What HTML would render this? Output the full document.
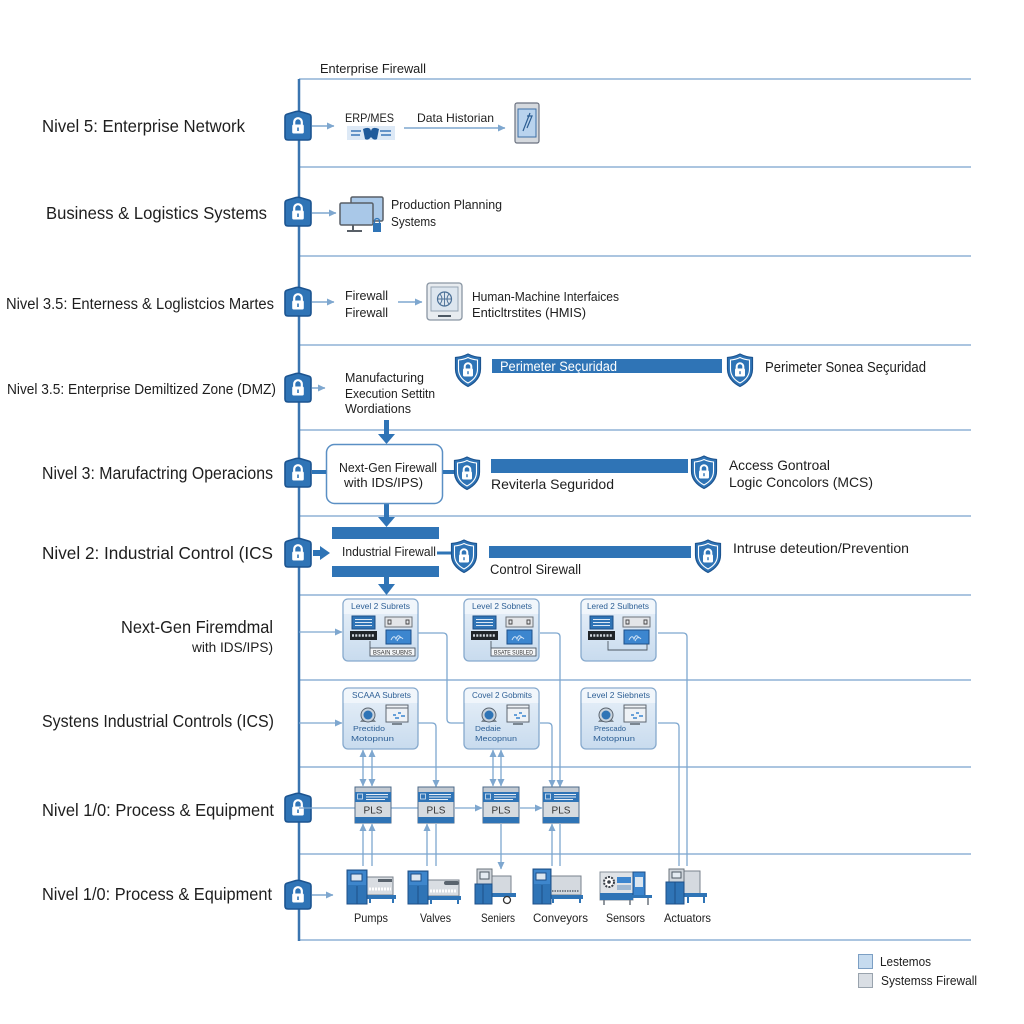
<!DOCTYPE html>
<html><head><meta charset="utf-8">
<style>
html,body{margin:0;padding:0;background:#fff;}
svg{display:block;}
text{font-family:"Liberation Sans",sans-serif;fill:#1e1e1e;}
.sm{fill:#2d5f95;}
</style></head><body>
<svg width="1024" height="1024" viewBox="0 0 1024 1024" xmlns="http://www.w3.org/2000/svg">
<defs>
 <marker id="ah" markerWidth="8" markerHeight="8" refX="7" refY="4" orient="auto-start-reverse" markerUnits="userSpaceOnUse"><path d="M0,0.5 L7.5,4 L0,7.5 Z" fill="#7ea7cf"/></marker>
 <linearGradient id="gb" x1="0" y1="0" x2="0" y2="1"><stop offset="0" stop-color="#e9f1f9"/><stop offset="1" stop-color="#c8dbee"/></linearGradient>
 <g id="lk">
  <path d="M-13,-9 Q-13,-11.5 -10.5,-12 L-2,-14.5 Q0,-15 2,-14.5 L10.5,-12 Q13,-11.5 13,-9 L13,11 Q13,14 10,14 L-10,14 Q-13,14 -13,11 Z" fill="#2f74b6" stroke="#1c5490" stroke-width="1.6"/>
  <path d="M-3.8,-1 V-4 A3.8,3.8 0 0 1 3.8,-4 V-1" fill="none" stroke="#fff" stroke-width="2.2"/>
  <rect x="-5.8" y="-1.5" width="11.6" height="9" rx="1.5" fill="#fff"/>
  <rect x="-0.8" y="1.5" width="1.6" height="3.5" fill="#2f74b6"/>
 </g>
 <g id="sh">
  <path d="M0,-16 Q6,-13 12.5,-12.5 L12.5,-1 Q12.5,10 0,16.5 Q-12.5,10 -12.5,-1 L-12.5,-12.5 Q-6,-13 0,-16 Z" fill="#2f74b6" stroke="#1c5490" stroke-width="1.2"/>
  <path d="M0,-12.5 Q4.5,-10.3 9.5,-10 L9.5,-1 Q9.5,8 0,13 Q-9.5,8 -9.5,-1 L-9.5,-10 Q-4.5,-10.3 0,-12.5 Z" fill="none" stroke="#fff" stroke-width="1.1"/>
  <path d="M-3.3,-1 V-3.5 A3.3,3.3 0 0 1 3.3,-3.5 V-1" fill="none" stroke="#fff" stroke-width="2"/>
  <rect x="-5" y="-1.5" width="10" height="8" rx="1.2" fill="#fff"/>
  <rect x="-0.7" y="1.2" width="1.4" height="3" fill="#2f74b6"/>
 </g>
 <g id="boxA">
  <rect x="0" y="0" width="75" height="62" rx="5" fill="url(#gb)" stroke="#86a9cd" stroke-width="1.3"/>
  <path d="M5,0.7 H70 Q74.3,0.7 74.3,5 V15 H0.7 V5 Q0.7,0.7 5,0.7Z" fill="#f2f7fc" opacity=".85"/>
  <rect x="9" y="17" width="23" height="13" fill="#2f74b6" stroke="#1c4f88"/>
  <path d="M12,20.5 H29 M12,23.5 H29 M12,26.5 H29" stroke="#dbe8f5" stroke-width="1"/>
  <rect x="7" y="32" width="27" height="9" fill="#1f2428"/>
  <path d="M9,36.5 H32" stroke="#cfd6dd" stroke-width="2.5" stroke-dasharray="2,1.3"/>
  <rect x="42" y="18" width="27" height="10" fill="#e3e5e8" stroke="#6d737a"/>
  <path d="M45,21 h3 v4 h-3z M63,21 h3 v4 h-3z" fill="none" stroke="#444" stroke-width="0.9"/>
  <rect x="43" y="31" width="25" height="14" fill="#3c86cf" stroke="#1c4f88"/>
  <path d="M48,41 q3,-6 5,-1 q2,-6 5,-1 M54,42 q3,-6 6,-2" fill="none" stroke="#cfe2f5" stroke-width="1"/>
 </g>
 <g id="boxB">
  <rect x="0" y="0" width="75" height="61" rx="5" fill="url(#gb)" stroke="#86a9cd" stroke-width="1.3"/>
  <path d="M5,0.7 H70 Q74.3,0.7 74.3,5 V15 H0.7 V5 Q0.7,0.7 5,0.7Z" fill="#f2f7fc" opacity=".85"/>
  <path d="M17,34 L33,34 L30,30 L20,30 Z" fill="#7d8790"/>
  <circle cx="25" cy="27" r="7" fill="#c9d3dd" stroke="#5b6570" stroke-width="1"/>
  <circle cx="25" cy="27" r="4.5" fill="#2f74b6"/>
  <rect x="43" y="17" width="22" height="17" fill="#eef2f6" stroke="#5d6670"/>
  <path d="M43,20 H65" stroke="#5d6670" stroke-width="1"/>
  <path d="M50,27 h3 M55,25 h3 M52,30 h4 M58,28 h4" stroke="#3c86cf" stroke-width="1.6"/>
  <path d="M49,36 H59" stroke="#5d6670" stroke-width="1.5"/>
 </g>
 <g id="plc">
  <rect x="0" y="0" width="36" height="36" fill="#d6dbe0" stroke="#4d6a88" stroke-width="1"/>
  <rect x="0.5" y="0.5" width="35" height="4.5" fill="#c3cad2"/>
  <rect x="0" y="5" width="36" height="10" fill="#2f74b6"/>
  <path d="M11,7.5 H33 M11,10 H33 M11,12.5 H30" stroke="#e6eef7" stroke-width="0.9"/>
  <rect x="2.5" y="7" width="5" height="5" fill="none" stroke="#dbe8f5" stroke-width="0.8"/>
  <rect x="0" y="30" width="36" height="6" fill="#2f74b6"/>
  <text x="18" y="26.5" font-size="10" text-anchor="middle" style="fill:#333">PLS</text>
 </g>
</defs>

<rect width="1024" height="1024" fill="#fff"/>

<!-- horizontal lanes -->
<g stroke="#8fb2d6" stroke-width="1.5">
 <path d="M299,79 H971 M299,167 H971 M299,256 H971 M299,345 H971 M299,430 H971 M299,516 H971 M299,595 H971 M299,680 H971 M299,767 H971 M299,854 H971 M299,940 H971"/>
</g>
<path d="M299,79 V941" stroke="#3a75b0" stroke-width="2.5"/>

<text x="320" y="73" font-size="12.5" textLength="106" lengthAdjust="spacingAndGlyphs">Enterprise Firewall</text>

<!-- left labels -->
<g font-size="17.5">
 <text x="42" y="132" textLength="203" lengthAdjust="spacingAndGlyphs">Nivel 5: Enterprise Network</text>
 <text x="46" y="219" textLength="221" lengthAdjust="spacingAndGlyphs">Business &amp; Logistics Systems</text>
 <text x="6" y="309" font-size="15.5" textLength="268" lengthAdjust="spacingAndGlyphs">Nivel 3.5: Enterness &amp; Loglistcios Martes</text>
 <text x="7" y="394" font-size="15" textLength="269" lengthAdjust="spacingAndGlyphs">Nivel 3.5: Enterprise Demiltized Zone (DMZ)</text>
 <text x="42" y="479" textLength="231" lengthAdjust="spacingAndGlyphs">Nivel 3: Marufactring Operacions</text>
 <text x="42" y="559" textLength="231" lengthAdjust="spacingAndGlyphs">Nivel 2: Industrial Control (ICS</text>
 <text x="121" y="633" textLength="152" lengthAdjust="spacingAndGlyphs">Next-Gen Firemdmal</text>
 <text x="192" y="652" font-size="14" textLength="81" lengthAdjust="spacingAndGlyphs">with IDS/IPS)</text>
 <text x="42" y="727" textLength="232" lengthAdjust="spacingAndGlyphs">Systens Industrial Controls (ICS)</text>
 <text x="42" y="816" textLength="232" lengthAdjust="spacingAndGlyphs">Nivel 1/0: Process &amp; Equipment</text>
 <text x="42" y="900" textLength="230" lengthAdjust="spacingAndGlyphs">Nivel 1/0: Process &amp; Equipment</text>
</g>

<!-- light arrows from locks -->
<g stroke="#7ea7cf" stroke-width="1.5" fill="none" marker-end="url(#ah)">
 <path d="M312,126 H334"/>
 <path d="M312,213 H336"/>
 <path d="M312,302 H334"/>
 <path d="M312,388 H325"/>
 <path d="M312,895 H333"/>
 <path d="M404,128 H505"/>
 <path d="M398,302 H422"/>
</g>

<!-- locks -->
<use href="#lk" x="298" y="126"/>
<use href="#lk" x="298" y="212"/>
<use href="#lk" x="298" y="302"/>
<use href="#lk" x="298" y="388"/>
<use href="#lk" x="298" y="473"/>
<use href="#lk" x="298" y="553"/>
<use href="#lk" x="298" y="808"/>
<use href="#lk" x="298" y="895"/>

<!-- Row 1 -->
<text x="345" y="122" font-size="12" textLength="49" lengthAdjust="spacingAndGlyphs">ERP/MES</text>
<rect x="347" y="126" width="48" height="14" fill="#dde9f6"/>
<path d="M351,131 h10 M351,135 h9 M380,131 h11 M381,135 h10" stroke="#3d78b8" stroke-width="1.6"/>
<path d="M363,129 Q370,126 371,131 Q372,126 379,129 L377,139 Q374,141 371,137 Q368,141 365,139 Z" fill="#1f5a9a"/>
<text x="417" y="122" font-size="12" textLength="77" lengthAdjust="spacingAndGlyphs">Data Historian</text>
<rect x="515" y="103" width="24" height="40" rx="2" fill="#d5d9de" stroke="#6b7280" stroke-width="1.2"/>
<rect x="518" y="109" width="18" height="28" fill="#b9d3ee" stroke="#3d6fa5" stroke-width="1"/>
<path d="M530,113 L523,131 M527,116 l5,0 l-5,12" stroke="#2c5d92" stroke-width="1.2" fill="none"/>

<!-- Row 2 -->
<rect x="351" y="197" width="32" height="24" rx="1.5" fill="#a9c8e8" stroke="#585f67" stroke-width="1.5"/>
<rect x="340" y="203" width="33" height="22" rx="1.5" fill="#a9c8e8" stroke="#585f67" stroke-width="1.5"/>
<path d="M353,225 V230 M347,231 H362" stroke="#585f67" stroke-width="2"/>
<path d="M374.5,223 V221 A2.5,2.5 0 0 1 379.5,221 V223" fill="none" stroke="#2f74b6" stroke-width="1.3"/>
<rect x="373" y="223" width="8" height="9" fill="#2f74b6"/>
<text x="391" y="209" font-size="13" textLength="111" lengthAdjust="spacingAndGlyphs">Production Planning</text>
<text x="391" y="226" font-size="13" textLength="45" lengthAdjust="spacingAndGlyphs">Systems</text>

<!-- Row 3 -->
<text x="345" y="300" font-size="13" textLength="43" lengthAdjust="spacingAndGlyphs">Firewall</text>
<text x="345" y="317" font-size="13" textLength="43" lengthAdjust="spacingAndGlyphs">Firewall</text>
<rect x="427" y="283" width="35" height="37" rx="3" fill="#e8ecf0" stroke="#8a96a3" stroke-width="1.3"/>
<rect x="431" y="287" width="27" height="24" fill="#dde6ef" stroke="#97a6b5" stroke-width="1"/>
<circle cx="444.5" cy="299" r="7" fill="none" stroke="#4a6f96" stroke-width="1.2"/>
<path d="M437.5,299 H451.5 M444.5,292 V306 M440,294 Q444,299 440,304 M449,294 Q445,299 449,304" stroke="#4a6f96" stroke-width="0.9" fill="none"/>
<path d="M438,316 H451" stroke="#4d5863" stroke-width="2"/>
<text x="472" y="301" font-size="13" textLength="147" lengthAdjust="spacingAndGlyphs">Human-Machine Interfaices</text>
<text x="472" y="317" font-size="13" textLength="114" lengthAdjust="spacingAndGlyphs">Enticltrstites (HMIS)</text>

<!-- Row 4 DMZ -->
<text x="345" y="382" font-size="12.5" textLength="79" lengthAdjust="spacingAndGlyphs">Manufacturing</text>
<text x="345" y="398" font-size="12.5" textLength="90" lengthAdjust="spacingAndGlyphs">Execution Settitn</text>
<text x="345" y="413" font-size="12.5" textLength="66" lengthAdjust="spacingAndGlyphs">Wordiations</text>
<use href="#sh" x="468" y="370"/>
<rect x="492" y="359" width="230" height="14" fill="#2f74b6"/>
<text x="500" y="371" font-size="13.5" textLength="117" lengthAdjust="spacingAndGlyphs" style="fill:#fff">Perimeter Seçuridad</text>
<use href="#sh" x="740" y="370"/>
<text x="765" y="372" font-size="14.5" textLength="161" lengthAdjust="spacingAndGlyphs">Perimeter Sonea Seçuridad</text>

<!-- thick arrows -->
<g fill="#2f74b6">
 <rect x="384" y="420" width="5" height="15"/>
 <path d="M378,434 H395 L386.5,444 Z"/>
 <rect x="384" y="503" width="5" height="15"/>
 <path d="M378,517 H395 L386.5,527 Z"/>
 <rect x="384" y="577" width="5" height="8"/>
 <path d="M378,584 H395 L386.5,595 Z"/>
</g>

<!-- Row 5 -->
<rect x="326.5" y="444.5" width="116" height="59" rx="8" fill="#fff" stroke="#5a8fc4" stroke-width="1.5"/>
<path d="M312,472 H326 M443,472 H455" stroke="#2f74b6" stroke-width="4"/>
<text x="339" y="472" font-size="13" textLength="98" lengthAdjust="spacingAndGlyphs">Next-Gen Firewall</text>
<text x="344" y="487" font-size="13" textLength="79" lengthAdjust="spacingAndGlyphs">with IDS/IPS)</text>
<use href="#sh" x="467" y="473"/>
<rect x="491" y="459" width="197" height="14" fill="#2f74b6"/>
<text x="491" y="489" font-size="14" textLength="123" lengthAdjust="spacingAndGlyphs">Reviterla Seguridod</text>
<use href="#sh" x="704" y="472"/>
<text x="729" y="470" font-size="14" textLength="101" lengthAdjust="spacingAndGlyphs">Access Gontroal</text>
<text x="729" y="487" font-size="14" textLength="144" lengthAdjust="spacingAndGlyphs">Logic Concolors (MCS)</text>

<!-- Row 6 -->
<rect x="332" y="527" width="107" height="12" fill="#2f74b6"/>
<rect x="332" y="566" width="107" height="11" fill="#2f74b6"/>
<path d="M313,550 H320 V546 L330,553 L320,560 V556 H313 Z" fill="#2f74b6"/>
<text x="342" y="556" font-size="12.5" textLength="94" lengthAdjust="spacingAndGlyphs">Industrial Firewall</text>
<path d="M437,553 H453" stroke="#2f74b6" stroke-width="3"/>
<use href="#sh" x="464" y="556"/>
<rect x="489" y="546" width="202" height="12" fill="#2f74b6"/>
<text x="490" y="574" font-size="13.5" textLength="91" lengthAdjust="spacingAndGlyphs">Control Sirewall</text>
<use href="#sh" x="708" y="556"/>
<text x="733" y="553" font-size="14" textLength="176" lengthAdjust="spacingAndGlyphs">Intruse deteution/Prevention</text>

<!-- Subnet connectors -->
<g stroke="#7ea7cf" stroke-width="1.3" fill="none">
 <path d="M299,632 H342" marker-end="url(#ah)"/>
 <path d="M299,723 H342" marker-end="url(#ah)"/>
 <path d="M418,633 H443 Q447,633 447,637 V719 Q447,723 451,723 H464"/>
 <path d="M540,633 H556 Q560,633 560,637 V787" marker-end="url(#ah)"/>
 <path d="M658,633 H683 Q687,633 687,637 V866"/>
 <path d="M418,723 H432 Q436,723 436,727 V787" marker-end="url(#ah)"/>
 <path d="M540,723 H548 Q552,723 552,727 V787" marker-end="url(#ah)"/>
 <path d="M658,723 H675 Q679,723 679,727 V866"/>
 <path d="M363,750 V786" marker-start="url(#ah)" marker-end="url(#ah)"/>
 <path d="M372,750 V786" marker-start="url(#ah)" marker-end="url(#ah)"/>
 <path d="M493,750 V786" marker-start="url(#ah)" marker-end="url(#ah)"/>
 <path d="M501,750 V786" marker-start="url(#ah)" marker-end="url(#ah)"/>
 <path d="M299,808 H355 M391,808 H418"/>
 <path d="M455,808 H482" marker-end="url(#ah)"/>
 <path d="M520,808 H542" marker-end="url(#ah)"/>
 <path d="M363,866 V824" marker-end="url(#ah)"/>
 <path d="M372,866 V824" marker-end="url(#ah)"/>
 <path d="M427,866 V824" marker-end="url(#ah)"/>
 <path d="M436,824 V866"/>
 <path d="M501,824 V869" marker-end="url(#ah)"/>
 <path d="M552,866 V824" marker-end="url(#ah)"/>
 <path d="M560,824 V866"/>
</g>

<!-- Subnet boxes row A -->
<use href="#boxA" x="343" y="599"/>
<use href="#boxA" x="464" y="599"/>
<use href="#boxA" x="581" y="599"/>
<g font-size="8.5" class="sm">
 <text x="351" y="609" class="sm" textLength="59" lengthAdjust="spacingAndGlyphs">Level 2 Subrets</text>
 <text x="472" y="609" class="sm" textLength="60" lengthAdjust="spacingAndGlyphs">Level 2 Sobnets</text>
 <text x="587" y="609" class="sm" textLength="62" lengthAdjust="spacingAndGlyphs">Lered 2 Sulbnets</text>
</g>
<g stroke="#4d5863" stroke-width="0.9" fill="#f4f6f8">
 <path d="M370,641 V648" fill="none"/>
 <rect x="370" y="648" width="45" height="8"/>
 <path d="M491,641 V648" fill="none"/>
 <rect x="491" y="648" width="45" height="8"/>
 <path d="M608,641 V650 H647 V644" fill="none"/>
</g>
<text x="373" y="654.5" font-size="6" textLength="39" lengthAdjust="spacingAndGlyphs" style="fill:#333">BSAIN SUBNS</text>
<text x="494" y="654.5" font-size="6" textLength="39" lengthAdjust="spacingAndGlyphs" style="fill:#333">BSATE SUBLED</text>

<!-- Subnet boxes row B -->
<use href="#boxB" x="343" y="688"/>
<use href="#boxB" x="464" y="688"/>
<use href="#boxB" x="581" y="688"/>
<g font-size="8.5">
 <text x="352" y="698" class="sm" textLength="59" lengthAdjust="spacingAndGlyphs">SCAAA Subrets</text>
 <text x="472" y="698" class="sm" textLength="60" lengthAdjust="spacingAndGlyphs">Covel 2 Gobmits</text>
 <text x="587" y="698" class="sm" textLength="63" lengthAdjust="spacingAndGlyphs">Level 2 Siebnets</text>
</g>
<g font-size="7.5">
 <text x="353" y="731" class="sm" textLength="32" lengthAdjust="spacingAndGlyphs">Prectido</text>
 <text x="351" y="741" class="sm" textLength="43" lengthAdjust="spacingAndGlyphs">Motopnun</text>
 <text x="475" y="731" class="sm" textLength="26" lengthAdjust="spacingAndGlyphs">Dedaie</text>
 <text x="475" y="741" class="sm" textLength="42" lengthAdjust="spacingAndGlyphs">Mecopnun</text>
 <text x="594" y="731" class="sm" textLength="32" lengthAdjust="spacingAndGlyphs">Prescado</text>
 <text x="593" y="741" class="sm" textLength="42" lengthAdjust="spacingAndGlyphs">Motopnun</text>
</g>

<!-- PLCs -->
<use href="#plc" x="355" y="787"/>
<use href="#plc" x="418" y="787"/>
<use href="#plc" x="483" y="787"/>
<use href="#plc" x="543" y="787"/>

<!-- Equipment -->
<g stroke-width="1">
 <!-- Pumps -->
 <rect x="367" y="877" width="26" height="18" fill="#d9dde2" stroke="#79828c"/>
 <rect x="378" y="879" width="14" height="3" fill="#59636d"/>
 <path d="M369,889 H391" stroke="#ffffff" stroke-width="3" stroke-dasharray="2,1"/>
 <rect x="366" y="895" width="30" height="4" fill="#2f74b6"/>
 <path d="M370,899 V903 M393,899 V903" stroke="#2f74b6" stroke-width="2"/>
 <rect x="347" y="870" width="20" height="34" fill="#2f74b6" stroke="#1c4f88"/>
 <rect x="348" y="871" width="18" height="14" fill="#3e86cc"/>
 <rect x="351" y="874" width="11" height="7" fill="#dbe6f0" stroke="#1c4f88"/>
 <path d="M357,886 V904" stroke="#1c4f88"/>
 <!-- Valves -->
 <rect x="428" y="880" width="31" height="16" fill="#d9dde2" stroke="#79828c"/>
 <rect x="444" y="881" width="15" height="4" rx="2" fill="#59636d"/>
 <path d="M430,891 H457" stroke="#ffffff" stroke-width="3" stroke-dasharray="2,1"/>
 <rect x="427" y="896" width="34" height="4" fill="#2f74b6"/>
 <path d="M431,900 V904 M458,900 V904" stroke="#2f74b6" stroke-width="2"/>
 <rect x="408" y="871" width="20" height="33" fill="#2f74b6" stroke="#1c4f88"/>
 <rect x="409" y="872" width="18" height="13" fill="#3e86cc"/>
 <rect x="411" y="874" width="10" height="7" fill="#dbe6f0" stroke="#1c4f88"/>
 <path d="M418,886 V904" stroke="#1c4f88"/>
 <!-- Seniers -->
 <rect x="491" y="876" width="20" height="18" fill="#d4d9df" stroke="#79828c"/>
 <rect x="490" y="893" width="26" height="4" fill="#2f74b6"/>
 <circle cx="507" cy="900" r="3.5" fill="#fff" stroke="#333" stroke-width="1.3"/>
 <rect x="477" y="869" width="15" height="15" fill="#cfd5db" stroke="#6b747d"/>
 <rect x="480" y="872" width="9" height="7" fill="#e4ebf2" stroke="#4d5863"/>
 <rect x="475" y="884" width="17" height="20" fill="#2f74b6" stroke="#1c4f88"/>
 <path d="M483,884 V904" stroke="#1c4f88"/>
 <!-- Conveyors -->
 <rect x="550" y="876" width="31" height="19" fill="#d4d9df" stroke="#79828c"/>
 <path d="M552,891 H579" stroke="#59636d" stroke-width="1.5" stroke-dasharray="1.5,1"/>
 <rect x="549" y="895" width="34" height="4" fill="#2f74b6"/>
 <path d="M553,899 V903 M580,899 V903" stroke="#2f74b6" stroke-width="2"/>
 <rect x="533" y="869" width="18" height="35" fill="#2f74b6" stroke="#1c4f88"/>
 <rect x="534" y="870" width="16" height="14" fill="#3e86cc"/>
 <rect x="536" y="873" width="10" height="7" fill="#dbe6f0" stroke="#1c4f88"/>
 <path d="M542,885 V904" stroke="#1c4f88"/>
 <!-- Sensors -->
 <rect x="600" y="872" width="33" height="28" fill="#dfe3e7" stroke="#8a939c"/>
 <circle cx="609" cy="882" r="5" fill="#fff" stroke="#3a4048" stroke-width="2" stroke-dasharray="2,1.2"/>
 <circle cx="609" cy="882" r="1.8" fill="#3a4048"/>
 <rect x="617" y="877" width="14" height="6" fill="#3c86cf"/>
 <rect x="617" y="885" width="14" height="5" fill="#9fb9d3"/>
 <rect x="600" y="893" width="33" height="7" fill="#2f74b6"/>
 <rect x="633" y="872" width="12" height="24" fill="#3c86cf" stroke="#1c4f88"/>
 <rect x="635" y="877" width="8" height="10" fill="#dbe6f0"/>
 <rect x="630" y="895" width="22" height="3" fill="#2f74b6"/>
 <path d="M604,900 V905 M630,900 V905 M648,898 V905" stroke="#6b747d" stroke-width="1.5"/>
 <!-- Actuators -->
 <rect x="684" y="871" width="16" height="24" fill="#d4d9df" stroke="#79828c"/>
 <rect x="683" y="893" width="24" height="4" fill="#2f74b6"/>
 <path d="M688,897 V903 M704,897 V903" stroke="#2f74b6" stroke-width="2"/>
 <rect x="669" y="869" width="15" height="13" fill="#cfd5db" stroke="#6b747d"/>
 <rect x="672" y="872" width="9" height="6" fill="#e4ebf2" stroke="#4d5863"/>
 <rect x="666" y="882" width="18" height="22" fill="#2f74b6" stroke="#1c4f88"/>
 <path d="M675,882 V904" stroke="#1c4f88"/>
</g>

<g font-size="12">
 <text x="354" y="922" textLength="34" lengthAdjust="spacingAndGlyphs">Pumps</text>
 <text x="420" y="922" textLength="31" lengthAdjust="spacingAndGlyphs">Valves</text>
 <text x="481" y="922" textLength="34" lengthAdjust="spacingAndGlyphs">Seniers</text>
 <text x="533" y="922" textLength="55" lengthAdjust="spacingAndGlyphs">Conveyors</text>
 <text x="606" y="922" textLength="39" lengthAdjust="spacingAndGlyphs">Sensors</text>
 <text x="664" y="922" textLength="47" lengthAdjust="spacingAndGlyphs">Actuators</text>
</g>

<!-- Legend -->
<rect x="858.5" y="954.5" width="14" height="14" fill="#c6dbef" stroke="#7c9fc4"/>
<rect x="858.5" y="973.5" width="14" height="14" fill="#d9dee4" stroke="#99a3ad"/>
<text x="880" y="966" font-size="12.5" textLength="51" lengthAdjust="spacingAndGlyphs">Lestemos</text>
<text x="881" y="985" font-size="12.5" textLength="96" lengthAdjust="spacingAndGlyphs">Systemss Firewall</text>
</svg>
</body></html>
